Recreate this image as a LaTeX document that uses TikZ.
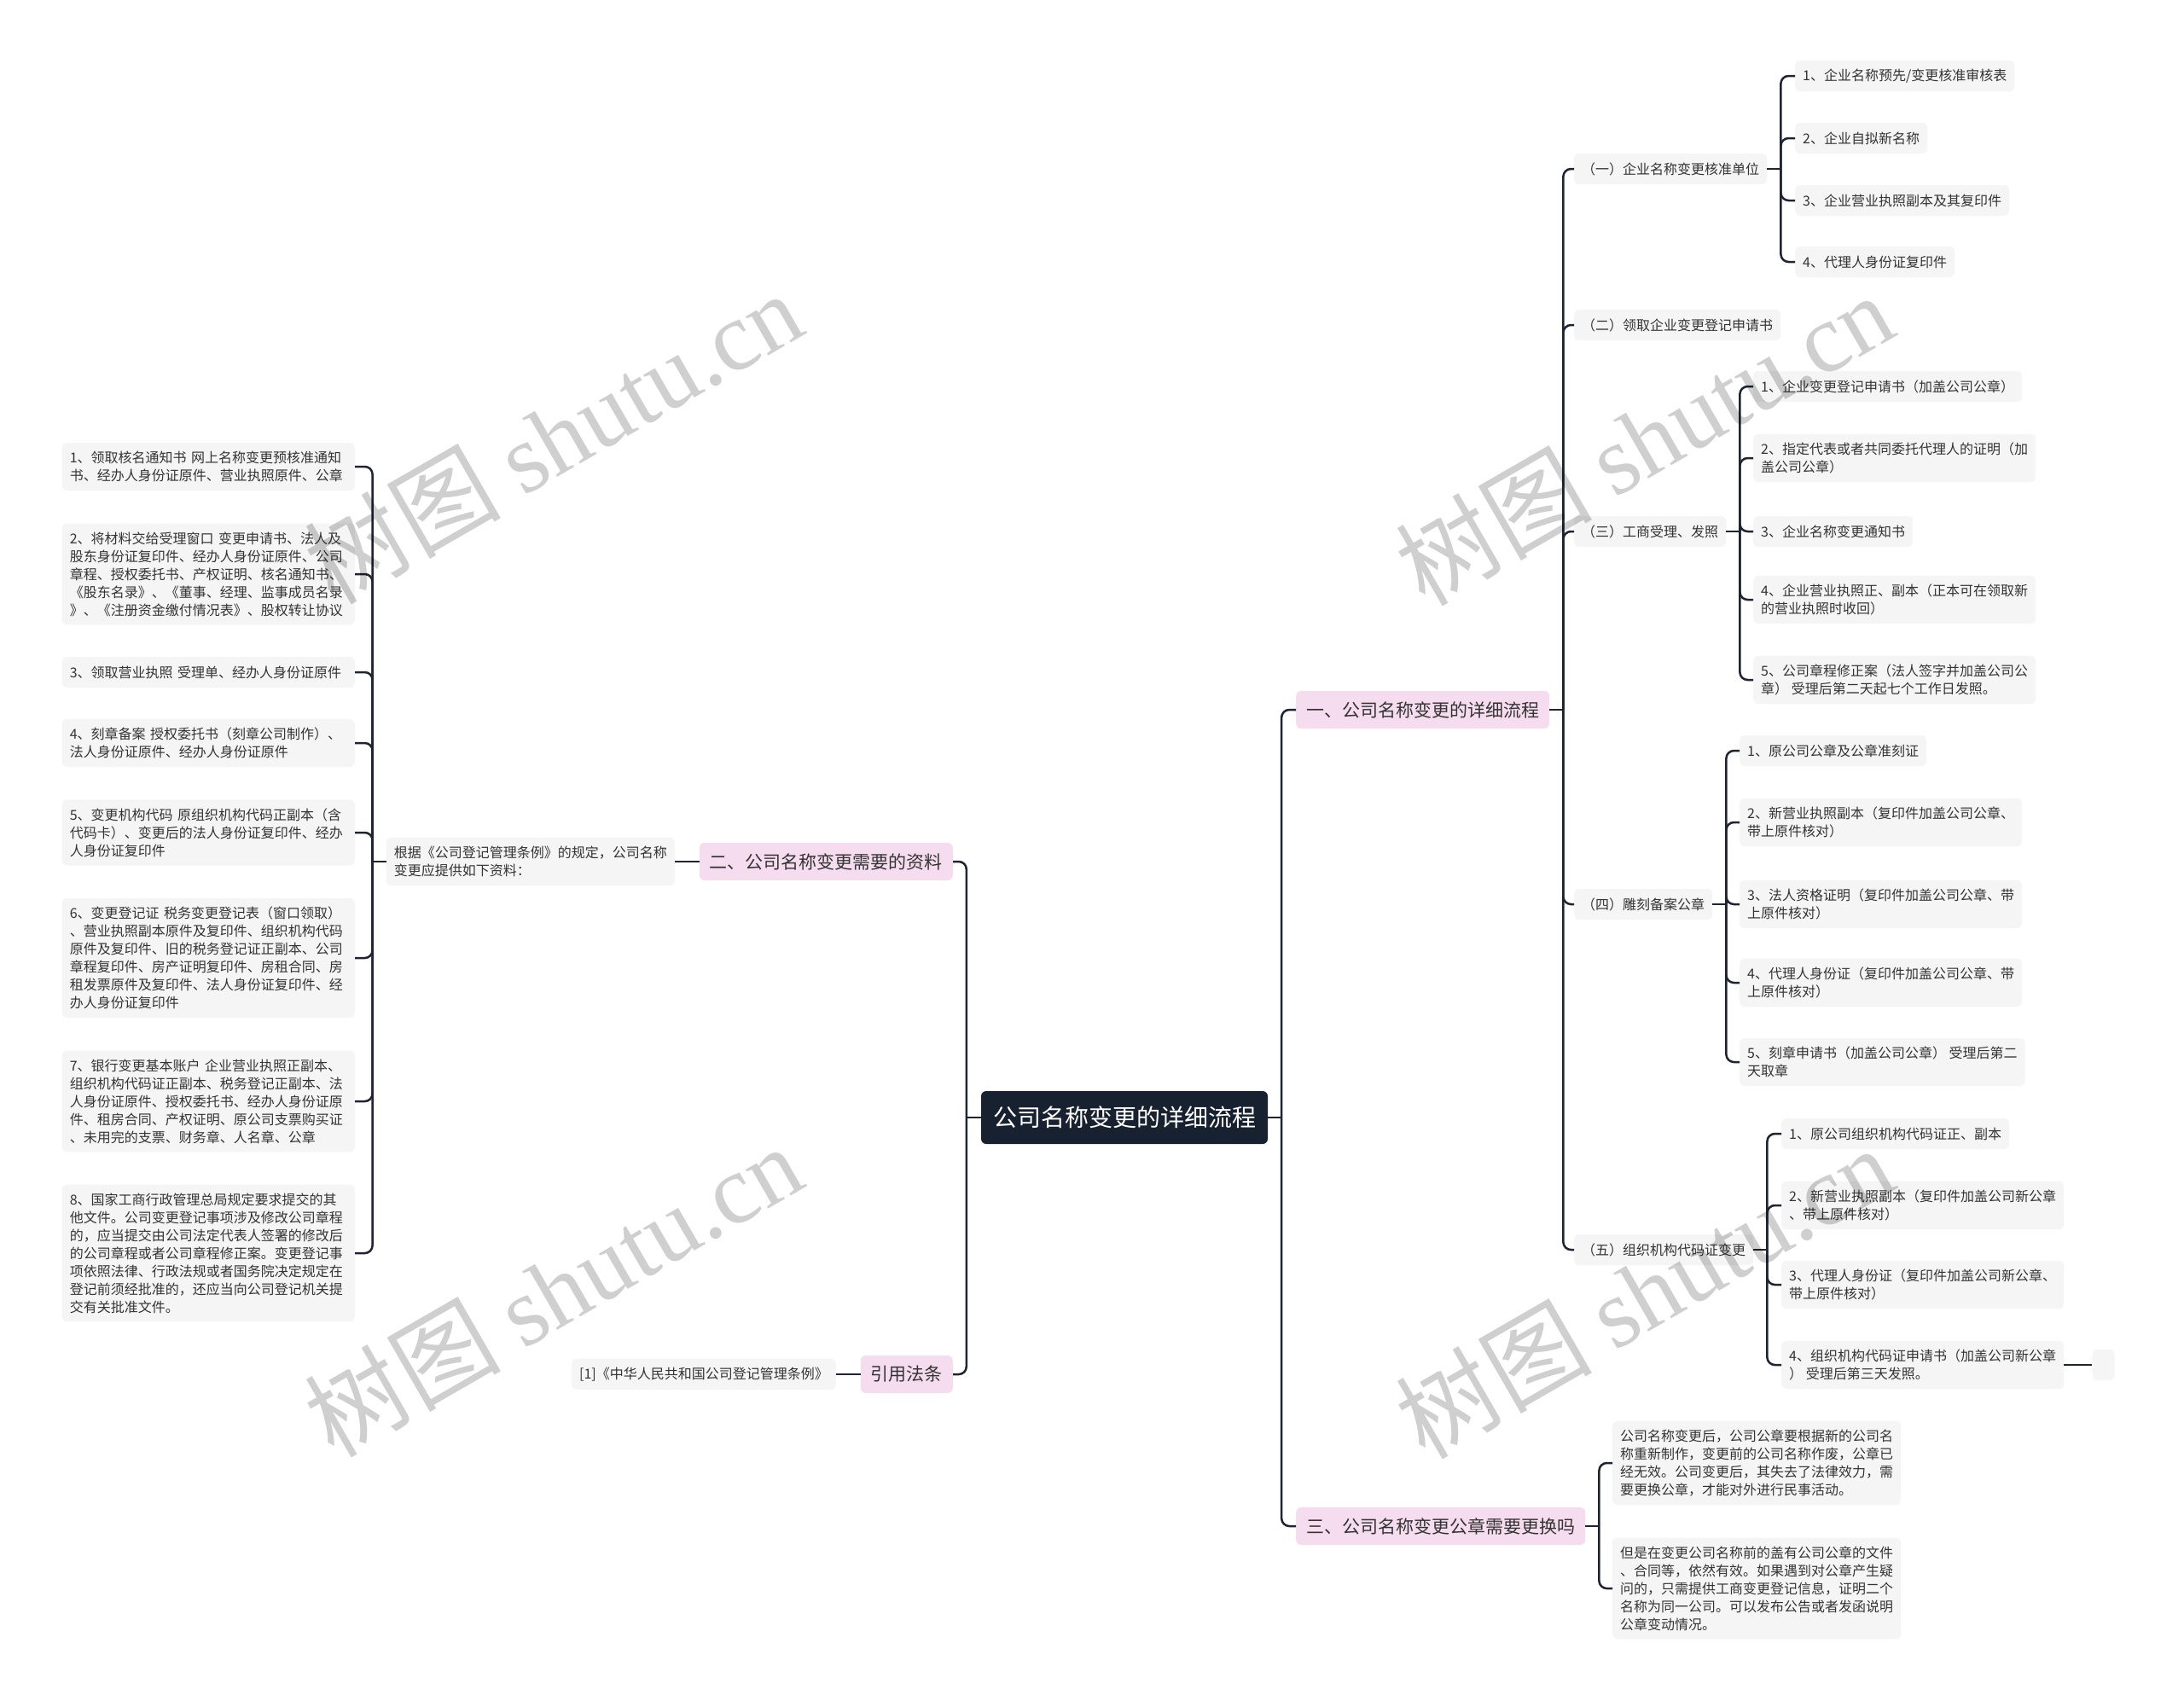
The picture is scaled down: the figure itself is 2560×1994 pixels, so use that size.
\documentclass[tikz,border=0pt]{standalone}
\usepackage{fontspec}
\setmainfont{Noto Sans CJK SC}
\newfontfamily\wmlatin{Liberation Serif}
\usepackage{xcolor}
\definecolor{ink}{HTML}{1E2433}
\definecolor{navy}{HTML}{172130}
\definecolor{pinkish}{HTML}{F6DCEF}
\definecolor{leafgray}{HTML}{F5F5F5}
\definecolor{txt}{HTML}{333333}
\usepackage{tikz}
\usetikzlibrary{positioning}
\tikzset{
  rootbox/.style={fill=navy,text=white,rounded corners=6pt,
                  font=\fontsize{28}{34}\selectfont,inner xsep=14pt,
                  minimum height=62pt},
  topic/.style  ={fill=pinkish,text=txt,rounded corners=6pt,
                  font=\fontsize{21}{26}\selectfont,inner xsep=12pt,
                  minimum height=44pt},
  leaf/.style   ={fill=leafgray,text=txt,rounded corners=6pt,
                  font=\fontsize{16}{21}\selectfont,align=left,
                  inner xsep=9pt,inner ysep=10pt,minimum height=36pt},
  leafL/.style  ={leaf,text width=325pt},
  link/.style   ={draw=ink,line width=2.5pt,rounded corners=9pt},
  wm/.style     ={text=black,text opacity=0.19,rotate=30,
                  font=\fontsize{115}{115}\selectfont},
}

\begin{document}
\begin{tikzpicture}[x=1pt,y=-1pt]
\fill[white] (0,0) rectangle (2560,1994);

% ---- centre
\node[rootbox] (root) at (1318,1310) {公司名称变更的详细流程};

% ---- right: 一
\node[topic,anchor=west] (t1) at (1519,832) {一、公司名称变更的详细流程};
\node[leaf,anchor=west] (s1) at (1845,198) {（一）企业名称变更核准单位};
\node[leaf,anchor=west] (s2) at (1845,381) {（二）领取企业变更登记申请书};
\node[leaf,anchor=west] (s3) at (1845,623) {（三）工商受理、发照};
\node[leaf,anchor=west] (s4) at (1845,1060) {（四）雕刻备案公章};
\node[leaf,anchor=west] (s5) at (1845,1465) {（五）组织机构代码证变更};

\node[leaf,anchor=west] (s1a) at (2104,89) {1、企业名称预先/变更核准审核表};
\node[leaf,anchor=west] (s1b) at (2104,162) {2、企业自拟新名称};
\node[leaf,anchor=west] (s1c) at (2104,235) {3、企业营业执照副本及其复印件};
\node[leaf,anchor=west] (s1d) at (2104,307) {4、代理人身份证复印件};

\node[leaf,anchor=west] (s3a) at (2055,453) {1、企业变更登记申请书（加盖公司公章）};
\node[leaf,anchor=west] (s3b) at (2055,537) {2、指定代表或者共同委托代理人的证明（加\\盖公司公章）};
\node[leaf,anchor=west] (s3c) at (2055,623) {3、企业名称变更通知书};
\node[leaf,anchor=west] (s3d) at (2055,703) {4、企业营业执照正、副本（正本可在领取新\\的营业执照时收回）};
\node[leaf,anchor=west] (s3e) at (2055,797) {5、公司章程修正案（法人签字并加盖公司公\\章） 受理后第二天起七个工作日发照。};

\node[leaf,anchor=west] (s4a) at (2039,880) {1、原公司公章及公章准刻证};
\node[leaf,anchor=west] (s4b) at (2039,964) {2、新营业执照副本（复印件加盖公司公章、\\带上原件核对）};
\node[leaf,anchor=west] (s4c) at (2039,1060) {3、法人资格证明（复印件加盖公司公章、带\\上原件核对）};
\node[leaf,anchor=west] (s4d) at (2039,1152) {4、代理人身份证（复印件加盖公司公章、带\\上原件核对）};
\node[leaf,anchor=west] (s4e) at (2039,1245) {5、刻章申请书（加盖公司公章） 受理后第二\\天取章};

\node[leaf,anchor=west] (s5a) at (2088,1329) {1、原公司组织机构代码证正、副本};
\node[leaf,anchor=west] (s5b) at (2088,1413) {2、新营业执照副本（复印件加盖公司新公章\\、带上原件核对）};
\node[leaf,anchor=west] (s5c) at (2088,1506) {3、代理人身份证（复印件加盖公司新公章、\\带上原件核对）};
\node[leaf,anchor=west] (s5d) at (2088,1600) {4、组织机构代码证申请书（加盖公司新公章\\） 受理后第三天发照。};
\node[leaf,minimum width=26pt,right=33pt of s5d] (s5x) {};

% ---- right: 三
\node[topic,anchor=west] (t3) at (1519,1789) {三、公司名称变更公章需要更换吗};
\node[leaf,anchor=west] (t3a) at (1890,1715)
 {公司名称变更后，公司公章要根据新的公司名\\称重新制作，变更前的公司名称作废，公章已\\经无效。公司变更后，其失去了法律效力，需\\要更换公章，才能对外进行民事活动。};
\node[leaf,anchor=west] (t3b) at (1890,1862)
 {但是在变更公司名称前的盖有公司公章的文件\\、合同等，依然有效。如果遇到对公章产生疑\\问的，只需提供工商变更登记信息，证明二个\\名称为同一公司。可以发布公告或者发函说明\\公章变动情况。};

% ---- left: 二
\node[topic,anchor=east] (t2) at (1117,1010) {二、公司名称变更需要的资料};
\node[leaf,anchor=east] (t2a) at (791,1010) {根据《公司登记管理条例》的规定，公司名称\\变更应提供如下资料：};
\node[leafL,anchor=east] (m1) at (416,547) {1、领取核名通知书 网上名称变更预核准通知\\书、经办人身份证原件、营业执照原件、公章};
\node[leafL,anchor=east] (m2) at (416,673) {2、将材料交给受理窗口 变更申请书、法人及\\股东身份证复印件、经办人身份证原件、公司\\章程、授权委托书、产权证明、核名通知书、\\《股东名录》、《董事、经理、监事成员名录\\》、《注册资金缴付情况表》、股权转让协议};
\node[leafL,anchor=east] (m3) at (416,788) {3、领取营业执照 受理单、经办人身份证原件};
\node[leafL,anchor=east] (m4) at (416,871) {4、刻章备案 授权委托书（刻章公司制作）、\\法人身份证原件、经办人身份证原件};
\node[leafL,anchor=east] (m5) at (416,976) {5、变更机构代码 原组织机构代码正副本（含\\代码卡）、变更后的法人身份证复印件、经办\\人身份证复印件};
\node[leafL,anchor=east] (m6) at (416,1123) {6、变更登记证 税务变更登记表（窗口领取）\\、营业执照副本原件及复印件、组织机构代码\\原件及复印件、旧的税务登记证正副本、公司\\章程复印件、房产证明复印件、房租合同、房\\租发票原件及复印件、法人身份证复印件、经\\办人身份证复印件};
\node[leafL,anchor=east] (m7) at (416,1291) {7、银行变更基本账户 企业营业执照正副本、\\组织机构代码证正副本、税务登记正副本、法\\人身份证原件、授权委托书、经办人身份证原\\件、租房合同、产权证明、原公司支票购买证\\、未用完的支票、财务章、人名章、公章};
\node[leafL,anchor=east] (m8) at (416,1469) {8、国家工商行政管理总局规定要求提交的其\\他文件。公司变更登记事项涉及修改公司章程\\的，应当提交由公司法定代表人签署的修改后\\的公司章程或者公司章程修正案。变更登记事\\项依照法律、行政法规或者国务院决定规定在\\登记前须经批准的，还应当向公司登记机关提\\交有关批准文件。};

% ---- left: 引用法条
\node[topic,anchor=east] (t4) at (1117,1611) {引用法条};
\node[leaf,anchor=east] (t4a) at (980,1611) {[1]《中华人民共和国公司登记管理条例》};

% ---- connectors
\draw[link] (root.east) -- ++(16,0) coordinate (jr);
\foreach \c in {t1,t3} \draw[link] (jr) |- (\c.west);
\draw[link] (root.west) -- ++(-17,0) coordinate (jl);
\foreach \c in {t2,t4} \draw[link] (jl) |- (\c.east);

\draw[link] (t1.east) -- ++(16,0) coordinate (j1);
\foreach \c in {s1,s2,s3,s4,s5} \draw[link] (j1) |- (\c.west);
\draw[link] (s1.east) -- ++(16,0) coordinate (js1);
\foreach \c in {s1a,s1b,s1c,s1d} \draw[link] (js1) |- (\c.west);
\draw[link] (s3.east) -- ++(16,0) coordinate (js3);
\foreach \c in {s3a,s3b,s3c,s3d,s3e} \draw[link] (js3) |- (\c.west);
\draw[link] (s4.east) -- ++(16,0) coordinate (js4);
\foreach \c in {s4a,s4b,s4c,s4d,s4e} \draw[link] (js4) |- (\c.west);
\draw[link] (s5.east) -- ++(16,0) coordinate (js5);
\foreach \c in {s5a,s5b,s5c,s5d} \draw[link] (js5) |- (\c.west);
\draw[link] (s5d.east) -- (s5x.west);

\draw[link] (t3.east) -- ++(16,0) coordinate (j3);
\foreach \c in {t3a,t3b} \draw[link] (j3) |- (\c.west);

\draw[link] (t2.west) -- (t2a.east);
\draw[link] (t2a.west) -- ++(-16,0) coordinate (j2);
\foreach \c in {m1,m2,m3,m4,m5,m6,m7,m8} \draw[link] (j2) |- (\c.east);
\draw[link] (t4.west) -- (t4a.east);

% ---- watermark
\foreach \px/\py [count=\i] in {648/512,648/1512,1927/514,1927/1514}
  \node[wm] (wm\i) at (\px,\py) {树图 {\wmlatin shutu.cn}};
\end{tikzpicture}
\end{document}
